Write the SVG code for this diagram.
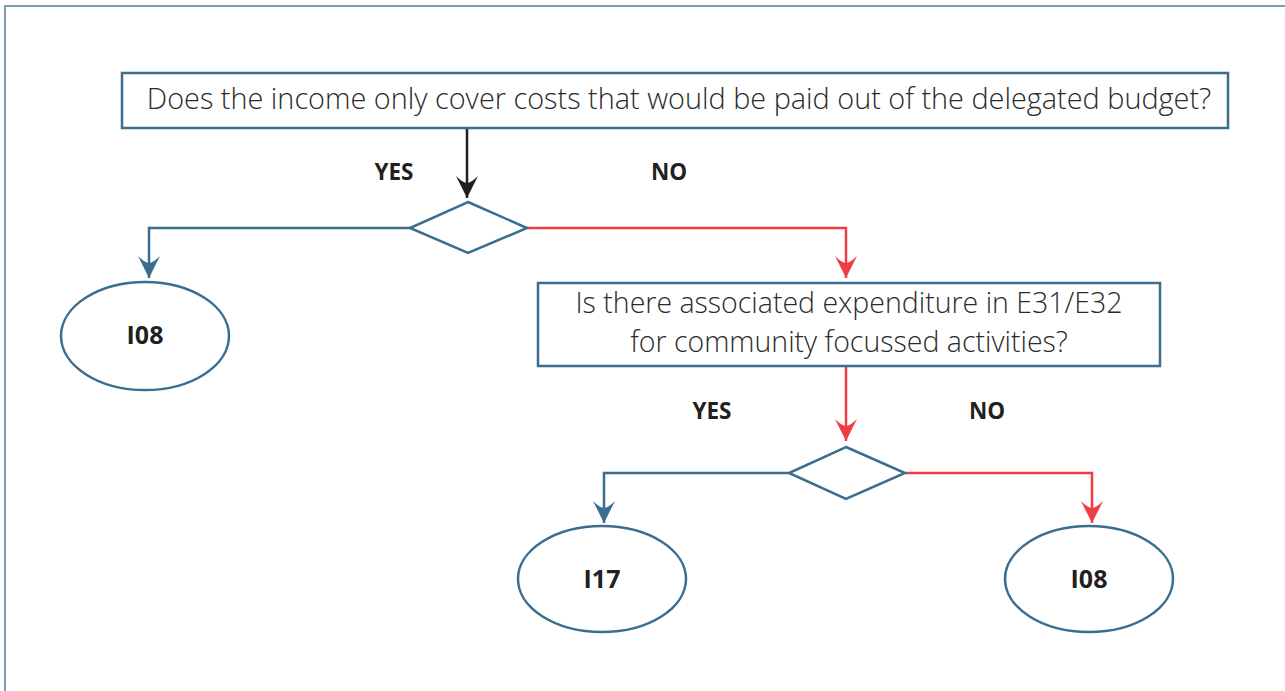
<svg xmlns="http://www.w3.org/2000/svg" width="1285" height="691" viewBox="0 0 1285 691">
  <style>
    .box { fill: #ffffff; stroke: #3b6d8e; stroke-width: 2.5; }
    .dia { fill: #ffffff; stroke: #3b6d8e; stroke-width: 2.5; }
    .ell { fill: #ffffff; stroke: #3b6d8e; stroke-width: 2.5; }
    .q { font-family: "Open Sans", "Liberation Sans", sans-serif; font-weight: 300; fill: #2b2b2b; text-anchor: middle; font-size: 28.5px; }
    .lbl { font-family: "Open Sans", "Liberation Sans", sans-serif; font-weight: 700; fill: #231f20; text-anchor: middle; font-size: 22.5px; }
    .term { font-family: "Open Sans", "Liberation Sans", sans-serif; font-weight: 700; fill: #231f20; text-anchor: middle; font-size: 25px; }
    .blue { fill: none; stroke: #3b6d8e; stroke-width: 2.5; }
    .red { fill: none; stroke: #ee3e44; stroke-width: 2.5; }
    .black { fill: none; stroke: #231f20; stroke-width: 2.5; }
  </style>
  <defs>
    <marker id="ahBlue" markerUnits="userSpaceOnUse" markerWidth="24" markerHeight="24" viewBox="-23 -12 24 24" refX="0" refY="0" orient="auto">
      <path d="M0,0 L-22,-11 Q-15,-4 -15,0 Q-15,4 -22,11 Z" fill="#3b6d8e"/>
    </marker>
    <marker id="ahRed" markerUnits="userSpaceOnUse" markerWidth="24" markerHeight="24" viewBox="-23 -12 24 24" refX="0" refY="0" orient="auto">
      <path d="M0,0 L-22,-11 Q-15,-4 -15,0 Q-15,4 -22,11 Z" fill="#ee3e44"/>
    </marker>
    <marker id="ahBlack" markerUnits="userSpaceOnUse" markerWidth="24" markerHeight="24" viewBox="-23 -12 24 24" refX="0" refY="0" orient="auto">
      <path d="M0,0 L-22,-11 Q-15,-4 -15,0 Q-15,4 -22,11 Z" fill="#231f20"/>
    </marker>
  </defs>

  <path id="frame" d="M5,691 V6 H1285" fill="none" stroke="#4d7c9b" stroke-width="1.5"/>

  <g id="connectors">
    <path class="black" d="M467,128 V198" marker-end="url(#ahBlack)"/>
    <path class="blue" d="M410,228 H149 V278" marker-end="url(#ahBlue)"/>
    <path class="red" d="M527,228 H846 V278" marker-end="url(#ahRed)"/>
    <path class="red" d="M846,366 V441" marker-end="url(#ahRed)"/>
    <path class="blue" d="M789,473 H604 V523" marker-end="url(#ahBlue)"/>
    <path class="red" d="M905,473 H1092 V523" marker-end="url(#ahRed)"/>
    <text class="lbl" x="394" y="180">YES</text>
    <text class="lbl" x="669" y="180">NO</text>
    <text class="lbl" x="712" y="419">YES</text>
    <text class="lbl" x="987" y="419">NO</text>
  </g>

  <g id="q1">
    <rect class="box" x="122" y="73" width="1106" height="55"/>
    <text class="q" x="679" y="109" style="font-size:28.85px">Does the income only cover costs that would be paid out of the delegated budget?</text>
  </g>

  <g id="d1">
    <polygon class="dia" points="468,202 527,228 468,253 410,228"/>
  </g>

  <g id="t1">
    <ellipse class="ell" cx="145" cy="336" rx="84" ry="54"/>
    <text class="term" x="145" y="344">I08</text>
  </g>

  <g id="q2">
    <rect class="box" x="538" y="283" width="622" height="83"/>
    <text class="q" x="849" y="313">Is there associated expenditure in E31/E32</text>
    <text class="q" x="849" y="352">for community focussed activities?</text>
  </g>

  <g id="d2">
    <polygon class="dia" points="846,447 905,473 846,499 789,473"/>
  </g>

  <g id="t2">
    <ellipse class="ell" cx="602" cy="579" rx="84" ry="53"/>
    <text class="term" x="602" y="588">I17</text>
  </g>

  <g id="t3">
    <ellipse class="ell" cx="1089" cy="579" rx="84" ry="53"/>
    <text class="term" x="1089" y="588">I08</text>
  </g>
</svg>
